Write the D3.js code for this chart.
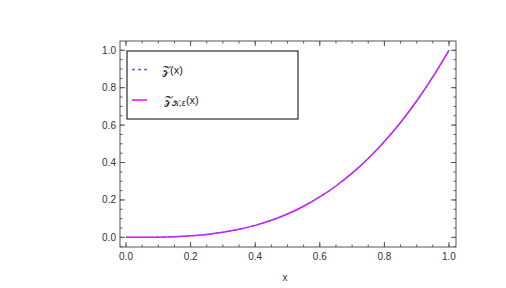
<!DOCTYPE html>
<html><head><meta charset="utf-8">
<script src="https://cdn.jsdelivr.net/npm/d3@7"></script>
<style>body{margin:0;background:#fff;} svg{display:block;}</style>
</head><body>
<svg id="c" width="506" height="288"></svg>
<script>
const xs = [0,0.05,0.1,0.15,0.2,0.25,0.3,0.35,0.4,0.45,0.5,0.55,0.6,0.65,0.7,0.75,0.8,0.85,0.9,0.95,1.0];
const zVals = [0,0.0001,0.001,0.0034,0.008,0.0156,0.027,0.0429,0.064,0.0911,0.125,0.1664,0.216,0.2746,0.343,0.4219,0.512,0.6141,0.729,0.8574,1.0];
const zkVals = [0,0.0001,0.001,0.0034,0.008,0.0156,0.027,0.0429,0.064,0.0911,0.125,0.1664,0.216,0.2746,0.343,0.4219,0.512,0.6141,0.729,0.8574,1.0];
const xTicks = [0,0.2,0.4,0.6,0.8,1.0];
const yTicks = [0,0.2,0.4,0.6,0.8,1.0];
const xMinor = d3.range(0,1.0001,0.05);
const yMinor = d3.range(-0.05,1.05,0.05);

const svg = d3.select("#c");
const L=120,R=456,T=41,B=247;
const x = d3.scaleLinear().domain([-0.0186,1.0217]).range([L,R]);
const y = d3.scaleLinear().domain([-0.0516,1.0497]).range([B,T]);
const fmt = d3.format(".1f");
const font = "'Liberation Sans', Arial, sans-serif";

const g = svg.append("g");
g.append("rect").attr("x",L).attr("y",T).attr("width",R-L).attr("height",B-T)
 .attr("fill","none").attr("stroke","#555").attr("stroke-width",1);

function ticks(arr, len){
  arr.forEach(v=>{
    const px = x(v);
    if (px>=L && px<=R){
      g.append("line").attr("x1",px).attr("x2",px).attr("y1",B).attr("y2",B-len).attr("stroke","#555");
      g.append("line").attr("x1",px).attr("x2",px).attr("y1",T).attr("y2",T+len).attr("stroke","#555");
    }
  });
}
function yt(arr,len){
  arr.forEach(v=>{
    const py=y(v);
    if(py>=T && py<=B){
      g.append("line").attr("x1",L).attr("x2",L+len).attr("y1",py).attr("y2",py).attr("stroke","#555");
      g.append("line").attr("x1",R).attr("x2",R-len).attr("y1",py).attr("y2",py).attr("stroke","#555");
    }
  });
}
ticks(xMinor,2.5); ticks(xTicks,5);
yt(yMinor,2.5); yt(yTicks,5);

xTicks.forEach(v=>{
  g.append("text").attr("x",x(v)).attr("y",B+13).attr("text-anchor","middle")
   .attr("font-family",font).attr("font-size",10).attr("fill","#333").text(fmt(v));
});
yTicks.forEach(v=>{
  g.append("text").attr("x",L-4).attr("y",y(v)+3.5).attr("text-anchor","end")
   .attr("font-family",font).attr("font-size",10).attr("fill","#333").text(fmt(v));
});
g.append("text").attr("x",285).attr("y",281).attr("text-anchor","middle")
 .attr("font-family",font).attr("font-size",10).attr("fill","#333").text("x");

const line = d3.line().x((d,i)=>x(xs[i])).y(d=>y(d)).curve(d3.curveMonotoneX);
g.append("path").attr("d",line(zkVals)).attr("fill","none").attr("stroke","#ff00ff").attr("stroke-width",1.5);
g.append("path").attr("d",line(zVals)).attr("fill","none").attr("stroke","#5a5aff").attr("stroke-width",1.2).attr("stroke-dasharray","3,3");

// legend
g.append("rect").attr("x",127).attr("y",51).attr("width",171).attr("height",68)
 .attr("fill","#fff").attr("stroke","#000").attr("stroke-width",1);
g.append("line").attr("x1",132).attr("x2",148).attr("y1",69.5).attr("y2",69.5)
 .attr("stroke","#5a5aff").attr("stroke-width",1.3).attr("stroke-dasharray","3,3");
g.append("line").attr("x1",132).attr("x2",147).attr("y1",100).attr("y2",100)
 .attr("stroke","#ff00ff").attr("stroke-width",1.5);
const sf = "'DejaVu Sans', sans-serif";
const t1 = g.append("text").attr("x",162).attr("y",73.5).attr("font-family",font).attr("font-size",11).attr("fill","#222");
t1.append("tspan").attr("font-family",sf).text("𝒵");
t1.append("tspan").text("(x)");
const t2 = g.append("text").attr("x",164).attr("y",104).attr("font-family",font).attr("font-size",11).attr("fill","#222");
t2.append("tspan").attr("font-family",sf).text("𝒵");
t2.append("tspan").attr("font-size",8).attr("dy",2).attr("font-family",sf).text("𝒦,ε");
t2.append("tspan").attr("dy",-2).text("(x)");
</script>
</body></html>
